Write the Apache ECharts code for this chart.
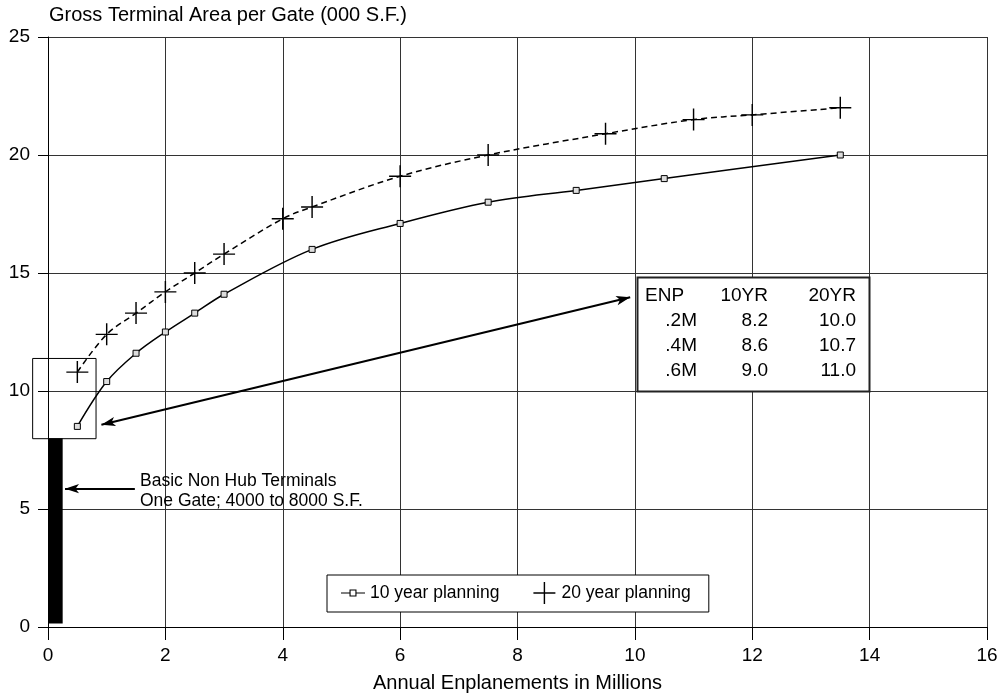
<!DOCTYPE html>
<html><head><meta charset="utf-8">
<script src="https://cdn.jsdelivr.net/npm/echarts@6/dist/echarts.min.js"></script>
<style>html,body{margin:0;padding:0;background:#fff}#c{width:1003px;height:698px}</style>
</head><body><div id="c"></div>
<script>
const tenYearX = [0.5, 1.0, 1.5, 2.0, 2.5, 3.0, 4.5, 6.0, 7.5, 9.0, 10.5, 13.5];
const tenYearY = [8.5, 10.4, 11.6, 12.5, 13.3, 14.1, 16.0, 17.1, 18.0, 18.5, 19.0, 20.0];
const twentyYearX = [0.5, 1.0, 1.5, 2.0, 2.5, 3.0, 4.0, 4.5, 6.0, 7.5, 9.5, 11.0, 12.0, 13.5];
const twentyYearY = [10.8, 12.4, 13.3, 14.2, 15.0, 15.8, 17.3, 17.8, 19.1, 20.0, 20.9, 21.5, 21.7, 22.0];
const baseBarX = [0, 0.25];
const baseBarY = [0.15, 8.0];
const zoomBoxX = [-0.27, 0.81];
const zoomBoxY = [8.0, 11.4];
const tableHeader = ['ENP', '10YR', '20YR'];
const tableEnp = ['.2M', '.4M', '.6M'];
const table10 = ['8.2', '8.6', '9.0'];
const table20 = ['10.0', '10.7', '11.0'];
const seriesNames = ['10 year planning', '20 year planning'];

const FONT = 'Liberation Sans, Arial, sans-serif';
const plusPath = 'path://M9.35,0h1.3v9.35h9.35v1.3h-9.35v9.35h-1.3v-9.35h-9.35v-1.3h9.35z';
const legendLinePath = 'path://M0,0h0.001v0.001h-0.001z M24,22h-0.001v-0.001h0.001z ' +
  'M0,10.4h8.5v-2.9h7v2.9h8.5v1.2h-8.5v2.9h-7v-2.9h-8.5z M9.6,8.6v4.8h4.8v-4.8z';
const chart = echarts.init(document.getElementById('c'), null, {renderer: 'canvas'});

const option = {
  animation: false,
  backgroundColor: '#fff',
  textStyle: {fontFamily: FONT, color: '#000'},
  title: {text: 'Gross Terminal Area per Gate (000 S.F.)', left: 44, top: 0,
    textStyle: {fontFamily: FONT, fontSize: 20, fontWeight: 'normal', color: '#000'}},
  grid: {left: 48, right: 16, top: 37, bottom: 68, containLabel: false},
  legend: {
    left: 327, top: 575, padding: [7, 18, 8, 14], itemGap: 34, itemWidth: 24, itemHeight: 22,
    borderColor: '#000', borderWidth: 1, backgroundColor: '#fff',
    textStyle: {fontFamily: FONT, fontSize: 17.5, color: '#000'},
    data: [
      {name: seriesNames[0], icon: legendLinePath, itemStyle: {color: '#000', borderWidth: 0}},
      {name: seriesNames[1], icon: plusPath, symbolKeepAspect: true, itemStyle: {color: '#000', borderWidth: 0}}
    ]
  },
  xAxis: {
    type: 'value', min: 0, max: 16, interval: 2,
    name: 'Annual Enplanements in Millions', nameLocation: 'middle', nameGap: 46,
    nameTextStyle: {fontFamily: FONT, fontSize: 20, color: '#000'},
    axisLine: {lineStyle: {color: '#000', width: 1}},
    axisTick: {show: true, length: 13, lineStyle: {color: '#000'}},
    axisLabel: {fontFamily: FONT, fontSize: 19, color: '#000', margin: 19},
    splitLine: {show: true, lineStyle: {color: '#333', width: 1}}
  },
  yAxis: {
    type: 'value', min: 0, max: 25, interval: 5,
    axisLine: {show: true, lineStyle: {color: '#000', width: 1}},
    axisTick: {show: true, length: 10, lineStyle: {color: '#000'}},
    axisLabel: {fontFamily: FONT, fontSize: 19, color: '#000', margin: 18},
    splitLine: {show: true, lineStyle: {color: '#333', width: 1}}
  },
  series: [
    {
      name: seriesNames[0], type: 'line', smooth: 0.35,
      data: tenYearX.map((x, i) => [x, tenYearY[i]]),
      symbol: 'rect', symbolSize: 6,
      itemStyle: {color: '#ddd', borderColor: '#000', borderWidth: 1},
      lineStyle: {color: '#000', width: 1.5},
      z: 5,
      markArea: {
        silent: true,
        itemStyle: {color: '#000'},
        data: [[{coord: [baseBarX[0], baseBarY[0]]}, {coord: [baseBarX[1], baseBarY[1]]}]]
      },
      markLine: {
        silent: true, animation: false,
        lineStyle: {color: '#000', width: 2, type: 'solid'},
        label: {show: false},
        symbolSize: [7, 14],
        data: [
          [{coord: [0.91, 8.57], symbol: 'arrow'}, {coord: [9.92, 13.97], symbol: 'arrow'}],
          [{coord: [1.48, 5.86], symbol: 'none'}, {coord: [0.29, 5.86], symbol: 'arrow'}]
        ]
      }
    },
    {
      name: seriesNames[1], type: 'line', smooth: 0.35,
      data: twentyYearX.map((x, i) => [x, twentyYearY[i]]),
      symbol: plusPath, symbolSize: 22,
      itemStyle: {color: '#000'},
      lineStyle: {color: '#000', width: 1.5, type: [6, 4]},
      z: 6
    }
  ]
};
chart.setOption(option);

const p0 = chart.convertToPixel({gridIndex: 0}, [zoomBoxX[0], zoomBoxY[1]]);
const p1 = chart.convertToPixel({gridIndex: 0}, [zoomBoxX[1], zoomBoxY[0]]);
const tl = {x: 637, y: 277};
const rowY = [296, 321, 346, 371];
const txt = (t, x, y, align, size) => ({type: 'text', x: x, y: y,
  style: {text: t, fill: '#000', font: size + 'px ' + FONT, textAlign: align, textVerticalAlign: 'middle'}, z: 20});
const g = [
  {type: 'rect', shape: {x: p0[0] + 0.5, y: p0[1] + 0.5, width: p1[0] - p0[0], height: p1[1] - p0[1]},
   style: {fill: null, stroke: '#000', lineWidth: 1}, z: 20},
  {type: 'rect', shape: {x: tl.x + 0.5, y: tl.y + 0.5, width: 232, height: 114},
   style: {fill: '#fff', stroke: '#222', lineWidth: 2}, z: 19},
  txt('Basic Non Hub Terminals', 140, 481, 'left', 17.5),
  txt('One Gate; 4000 to 8000 S.F.', 140, 501, 'left', 17.5),
  txt(tableHeader[0], 645, rowY[0], 'left', 19),
  txt(tableHeader[1], 768, rowY[0], 'right', 19),
  txt(tableHeader[2], 856, rowY[0], 'right', 19)
];
for (let i = 0; i < 3; i++) {
  g.push(txt(tableEnp[i], 697, rowY[i + 1], 'right', 19));
  g.push(txt(table10[i], 768, rowY[i + 1], 'right', 19));
  g.push(txt(table20[i], 856, rowY[i + 1], 'right', 19));
}
chart.setOption({graphic: g});
</script>
</body></html>
